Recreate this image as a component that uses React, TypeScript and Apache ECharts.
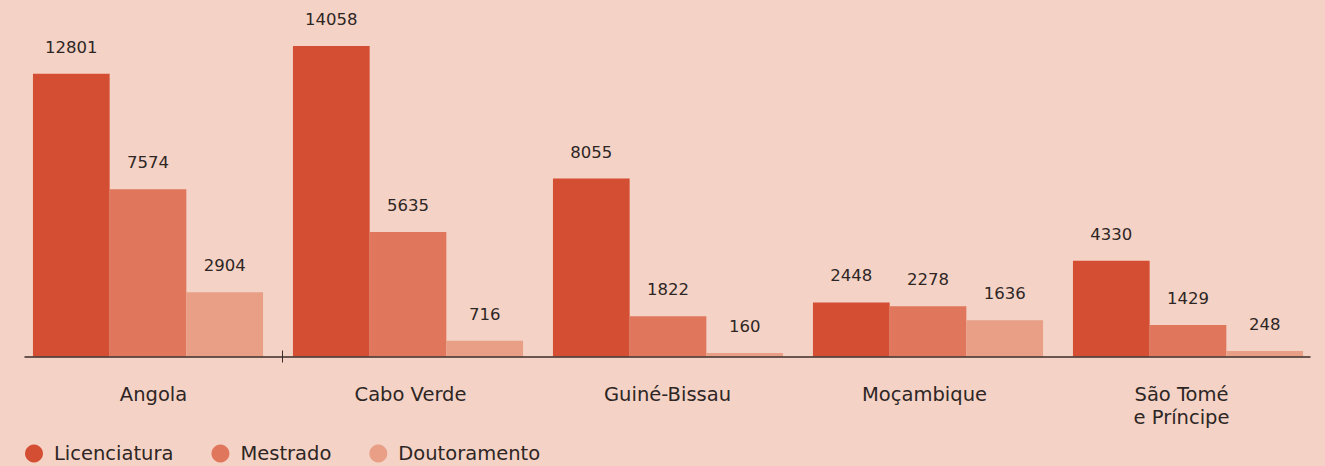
import React, { useEffect, useRef } from "react";
import * as echarts from "echarts";

const categories = ["Angola", "Cabo Verde", "Guiné-Bissau", "Moçambique", "São Tomé\ne Príncipe"];
const seriesNames = ["Licenciatura", "Mestrado", "Doutoramento"];
const licenciatura = [12801, 14058, 8055, 2448, 4330];
const mestrado = [7574, 5635, 1822, 2278, 1429];
const doutoramento = [2904, 716, 160, 1636, 248];
const tickPositions = [1];
const colors = ["#d44e33", "#e0775c", "#e89f86"];

const FONT = "'DejaVu Sans', sans-serif";
const TEXT = "#2e2624";
const AXIS = "#3d2b27";

export default function App() {
  const ref = useRef<HTMLDivElement>(null);
  useEffect(() => {
    document.body.style.margin = "0";
    document.body.style.background = "#f4d3c6";
    const chart = echarts.init(ref.current!, null, { renderer: "svg" });
    const values = [licenciatura, mestrado, doutoramento];
    chart.setOption({
      animation: false,
      backgroundColor: "#f4d3c6",
      textStyle: { fontFamily: FONT },
      grid: [
        { left: 18, right: 7, top: 3, bottom: 109.5 },
        { left: 25, right: 15, top: 3, bottom: 109.5 },
      ],
      legend: {
        left: 25,
        top: 443.5,
        padding: 0,
        icon: "circle",
        itemWidth: 18,
        itemHeight: 18,
        itemGap: 38,
        textStyle: { color: TEXT, fontSize: 19.5, fontFamily: FONT, padding: [0, 0, 0, 6] },
        data: seriesNames,
      },
      xAxis: [
        {
          type: "category",
          gridIndex: 0,
          data: categories,
          show: false,
        },
        {
          type: "category",
          gridIndex: 1,
          data: categories,
          axisLine: { show: true, lineStyle: { color: AXIS, width: 1.5 } },
          axisTick: { show: false },
          axisLabel: { color: TEXT, fontSize: 19.5, margin: 26, lineHeight: 23, fontFamily: FONT },
          z: 10,
        },
        {
          type: "value",
          gridIndex: 1,
          position: "bottom",
          min: 0,
          max: categories.length,
          offset: 6,
          axisLine: { show: false },
          splitLine: { show: false },
          axisLabel: { show: false },
          axisTick: {
            show: true,
            inside: true,
            length: 12,
            customValues: tickPositions,
            lineStyle: { color: AXIS, width: 1 },
          },
          z: 10,
        },
      ],
      yAxis: [
        { type: "value", gridIndex: 0, min: 0, max: 16000, show: false, splitLine: { show: false } },
        { type: "value", gridIndex: 1, min: 0, max: 16000, show: false, splitLine: { show: false } },
      ],
      series: seriesNames.map((name, i) => ({
        name,
        type: "bar",
        xAxisIndex: 0,
        yAxisIndex: 0,
        data: values[i],
        barGap: "0%",
        barCategoryGap: "11.5%",
        itemStyle: { color: colors[i] },
        label: {
          show: true,
          position: "top",
          distance: 18,
          color: TEXT,
          fontSize: 16.5,
          fontFamily: FONT,
        },
      })),
    });
    return () => chart.dispose();
  }, []);
  return <div ref={ref} style={{ width: 1325, height: 466 }} />;
}
